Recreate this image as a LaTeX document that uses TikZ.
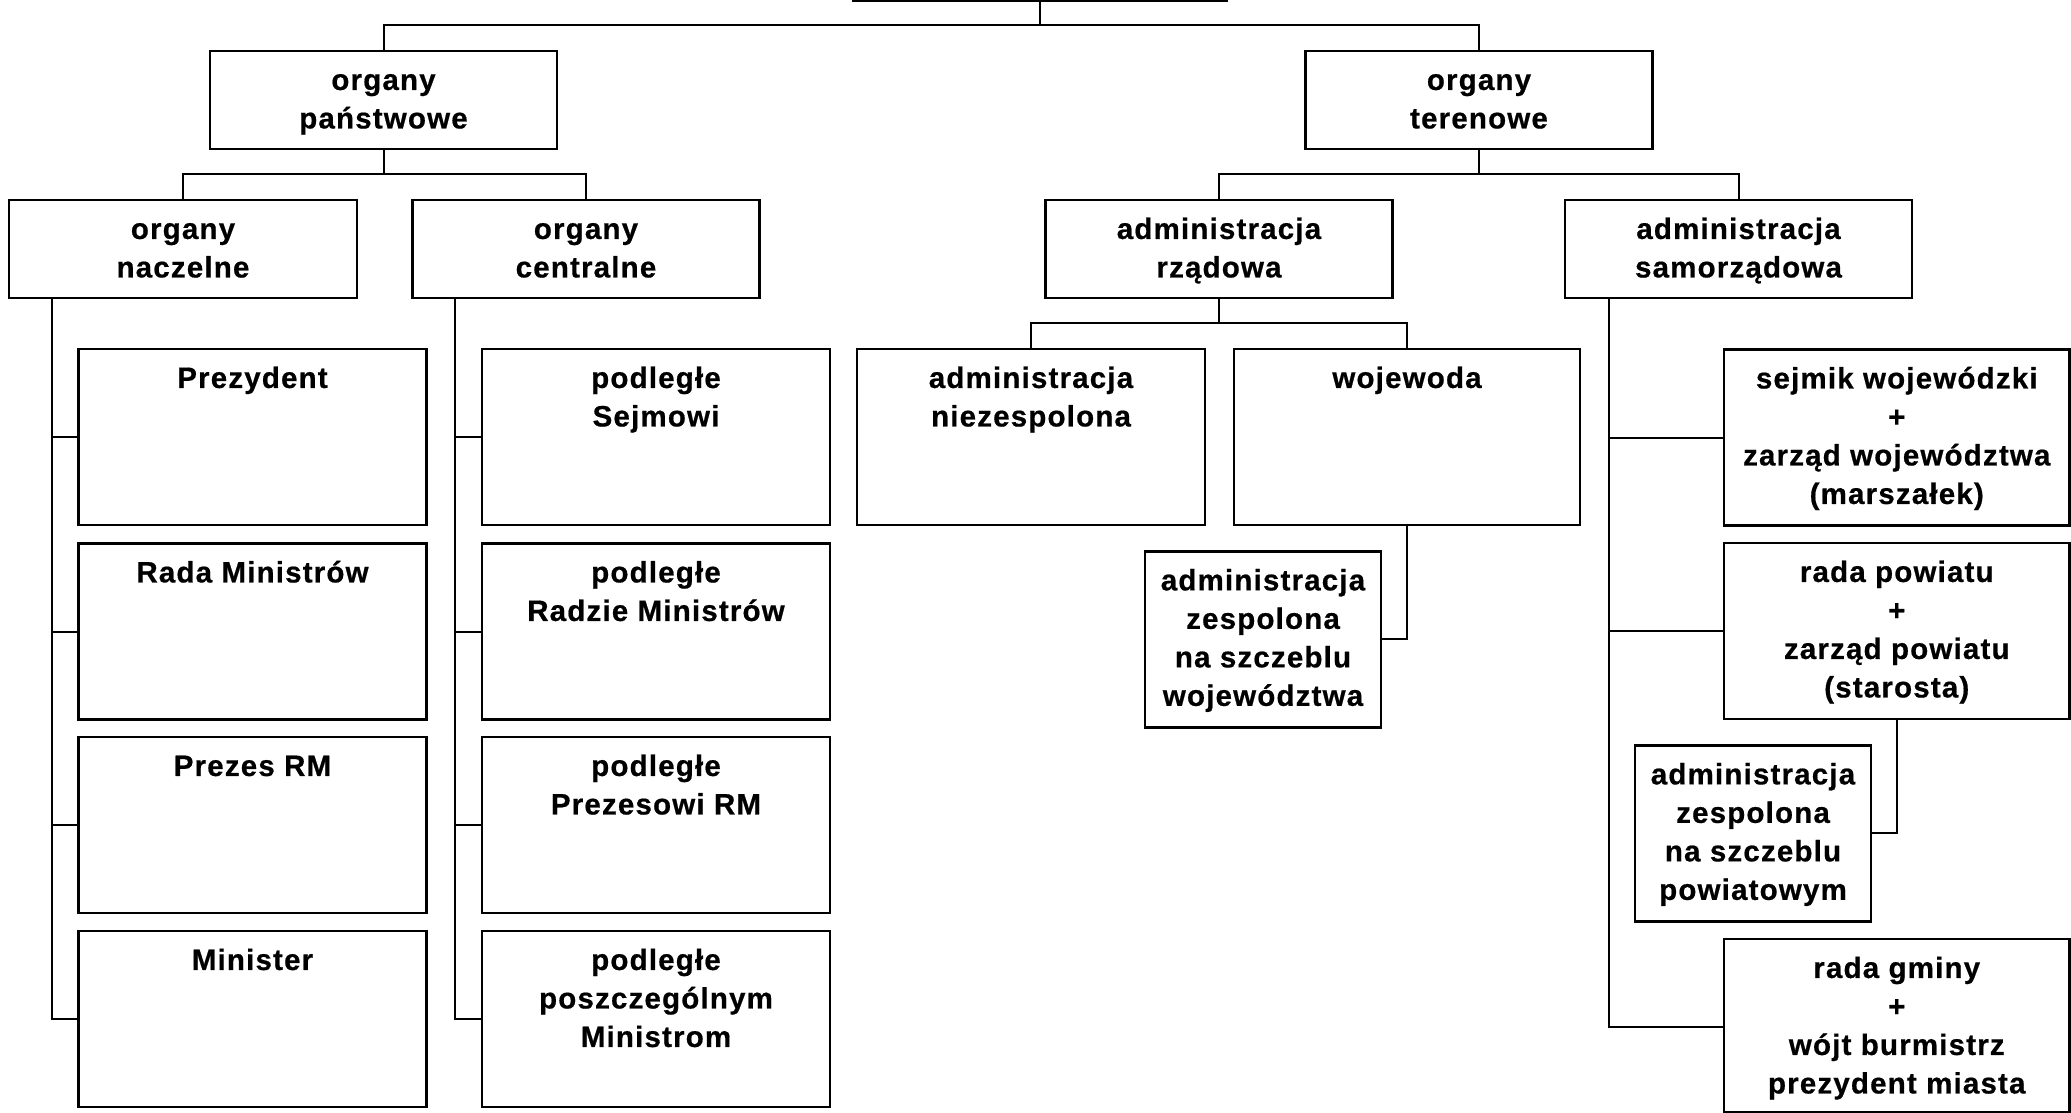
\documentclass[tikz,border=0pt]{standalone}
\usepackage{fontspec}
\newfontfamily\orgfont{Liberation Sans Bold}[LetterSpace=4, FakeBold=0.6]
\begin{document}
\begin{tikzpicture}[x=1pt,y=-1pt,
  every node/.style={inner sep=0pt, outer sep=0pt},
  midbox/.style={draw, line width=2.2pt, rectangle, minimum width=347pt, minimum height=98pt},
  bigbox/.style={draw, line width=2.2pt, rectangle, minimum width=348pt, minimum height=176pt},
  smallbox/.style={draw, line width=2.2pt, rectangle, minimum width=236pt, minimum height=176pt},
  txt/.style={anchor=north, align=center, font=\orgfont\fontsize{29.5}{38.5}\selectfont},
  conn/.style={draw, line width=2pt}]
\clip (0,0) rectangle (2071,1113);
\fill[white] (0,0) rectangle (2071,1113);

% top (cut off) box
\node[draw, line width=2.2pt, minimum width=374pt, minimum height=100pt, anchor=south] (top) at (1040,1) {};

% level 1
\node[midbox] (pan) at (383.5,100) {};
\node[txt] (pant) at ([yshift=-12pt]pan.north) {\strut organy\\państwowe};
\node[midbox] (ter) at (1479,100) {};
\node[txt] (tert) at ([yshift=-12pt]ter.north) {\strut organy\\terenowe};

% level 2
\node[midbox, minimum width=348pt] (nacz) at (183,249) {};
\node[txt] (naczt) at ([yshift=-12pt]nacz.north) {\strut organy\\naczelne};
\node[midbox] (cent) at (586,249) {};
\node[txt] (centt) at ([yshift=-12pt]cent.north) {\strut organy\\centralne};
\node[midbox] (rzad) at (1219,249) {};
\node[txt] (rzadt) at ([yshift=-12pt]rzad.north) {\strut administracja\\rządowa};
\node[midbox] (samo) at (1738.5,249) {};
\node[txt] (samot) at ([yshift=-12pt]samo.north) {\strut administracja\\samorządowa};

% level 3 left
\node[bigbox] (prez) at (252.5,437) {};
\node[txt] (prezt) at ([yshift=-12pt]prez.north) {\strut Prezydent};
\node[bigbox] (rm) at (252.5,631.5) {};
\node[txt] (rmt) at ([yshift=-12pt]rm.north) {\strut Rada Ministrów};
\node[bigbox] (prm) at (252.5,825) {};
\node[txt] (prmt) at ([yshift=-12pt]prm.north) {\strut Prezes RM};
\node[bigbox] (min) at (252.5,1019) {};
\node[txt] (mint) at ([yshift=-12pt]min.north) {\strut Minister};

% level 3 centralne
\node[bigbox] (ps) at (656,437) {};
\node[txt] (pst) at ([yshift=-12pt]ps.north) {\strut podległe\\Sejmowi};
\node[bigbox] (prr) at (656,631.5) {};
\node[txt] (prrt) at ([yshift=-12pt]prr.north) {\strut podległe\\Radzie Ministrów};
\node[bigbox] (ppr) at (656,825) {};
\node[txt] (pprt) at ([yshift=-12pt]ppr.north) {\strut podległe\\Prezesowi RM};
\node[bigbox] (ppm) at (656,1019) {};
\node[txt] (ppmt) at ([yshift=-12pt]ppm.north) {\strut podległe\\poszczególnym\\Ministrom};

% rządowa
\node[bigbox] (niez) at (1031,437) {};
\node[txt] (niezt) at ([yshift=-12pt]niez.north) {\strut administracja\\niezespolona};
\node[bigbox, minimum width=346pt] (woj) at (1407,437) {};
\node[txt] (wojt) at ([yshift=-12pt]woj.north) {\strut wojewoda};
\node[smallbox] (zw) at (1263,639.4) {};
\node[txt] (zwt) at ([yshift=-12pt]zw.north) {\strut administracja\\zespolona\\na szczeblu\\województwa};

% samorządowa
\node[bigbox, minimum width=345.5pt] (sej) at (1896.75,437.5) {};
\node[txt] (sejt) at ([yshift=-12pt]sej.north) {\strut sejmik wojewódzki\\+\\zarząd województwa\\(marszałek)};
\node[bigbox, minimum width=345.5pt] (rp) at (1896.75,631) {};
\node[txt] (rpt) at ([yshift=-12pt]rp.north) {\strut rada powiatu\\+\\zarząd powiatu\\(starosta)};
\node[smallbox] (zp) at (1753,833.4) {};
\node[txt] (zpt) at ([yshift=-12pt]zp.north) {\strut administracja\\zespolona\\na szczeblu\\powiatowym};
\node[bigbox, minimum width=345.5pt, minimum height=173pt] (rg) at (1896.75,1025.5) {};
\node[txt] (rgt) at ([yshift=-12pt]rg.north) {\strut rada gminy\\+\\wójt burmistrz\\prezydent miasta};

% connectors
\draw[conn] (top.south) -- ++(0,24) -| (pan.north);
\draw[conn] (top.south) ++(0,24) -| (ter.north);

\draw[conn] (pan.south) -- ++(0,25) -| (nacz.north);
\draw[conn] (pan.south) ++(0,25) -| (cent.north);
\draw[conn] (ter.south) -- ++(0,25) -| (rzad.north);
\draw[conn] (ter.south) ++(0,25) -| (samo.north);
\draw[conn] (rzad.south) -- ++(0,25) -| (niez.north);
\draw[conn] (rzad.south) ++(0,25) -| (woj.north);

\draw[conn] ([xshift=43pt]nacz.south west) |- (min.west);
\draw[conn] ([xshift=43pt]nacz.south west) |- (prez.west);
\draw[conn] ([xshift=43pt]nacz.south west) |- (rm.west);
\draw[conn] ([xshift=43pt]nacz.south west) |- (prm.west);

\draw[conn] ([xshift=42.6pt]cent.south west) |- (ppm.west);
\draw[conn] ([xshift=42.6pt]cent.south west) |- (ps.west);
\draw[conn] ([xshift=42.6pt]cent.south west) |- (prr.west);
\draw[conn] ([xshift=42.6pt]cent.south west) |- (ppr.west);

\draw[conn] ([xshift=43.8pt]samo.south west) |- ([yshift=-1.5pt]rg.west);
\draw[conn] ([xshift=43.8pt]samo.south west) |- (sej.west);
\draw[conn] ([xshift=43.8pt]samo.south west) |- (rp.west);

\draw[conn] (woj.south) |- (zw.east);
\draw[conn] (rp.south) |- (zp.east);
\end{tikzpicture}
\end{document}
